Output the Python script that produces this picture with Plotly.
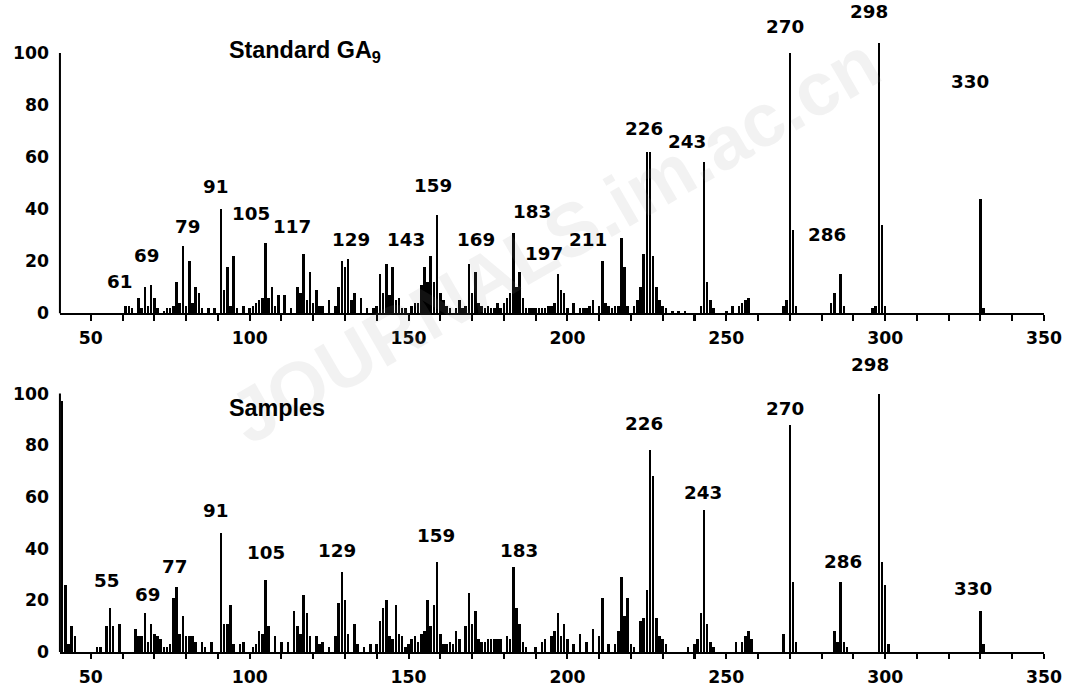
import plotly.graph_objects as go

# ---------------- data ----------------
top_mz = [61, 62, 63, 65, 66, 67, 68, 69, 70, 71, 73, 74, 75, 76, 77, 78, 79, 80, 81, 82, 83, 84, 85, 87, 89,
          91, 92, 93, 94, 95, 96, 98, 100, 101, 102, 103, 104, 105, 106, 107, 108, 109, 111, 113, 115, 116, 117,
          118, 119, 120, 121, 122, 123, 125, 127, 128, 129, 130, 131, 132, 133, 135, 137, 139, 140, 141, 142,
          143, 144, 145, 146, 147, 148, 149, 151, 152, 153, 154, 155, 156, 157, 158, 159, 160, 161, 162, 163,
          165, 166, 167, 168, 169, 170, 171, 172, 173, 174, 175, 176, 177, 178, 179, 180, 181, 182, 183, 184,
          185, 186, 187, 188, 189, 190, 191, 192, 193, 194, 195, 196, 197, 198, 199, 200, 202, 204, 205, 206,
          207, 208, 210, 211, 212, 213, 214, 215, 216, 217, 218, 219, 221, 222, 223, 224, 225, 226, 227, 228,
          229, 230, 231, 233, 235, 237, 242, 243, 244, 245, 246, 250, 252, 254, 255, 256, 257, 268, 269, 270,
          271, 272, 283, 284, 286, 287, 296, 297, 298, 299, 300, 330, 331]
top_int = [3, 3, 2, 6, 2, 10, 3, 11, 6, 2, 1, 2, 2, 3, 12, 4, 26, 3, 20, 4, 10, 8, 2, 2, 2,
           40, 9, 18, 3, 22, 2, 3, 2, 3, 4, 5, 6, 27, 6, 10, 3, 7, 7, 2, 10, 8, 23,
           5, 16, 4, 9, 3, 3, 5, 3, 10, 20, 18, 21, 5, 8, 6, 2, 2, 3, 15, 8,
           19, 7, 18, 5, 6, 2, 2, 3, 4, 4, 11, 18, 12, 22, 12, 38, 8, 5, 3, 2,
           2, 5, 2, 3, 19, 8, 16, 4, 3, 2, 3, 2, 2, 4, 2, 4, 6, 8, 31, 10,
           16, 6, 2, 2, 2, 2, 2, 2, 2, 3, 3, 4, 15, 9, 8, 2, 4, 2, 2, 2,
           3, 5, 3, 20, 4, 3, 2, 3, 3, 29, 18, 3, 3, 5, 10, 23, 62, 62, 22, 10,
           5, 3, 2, 1, 1, 1, 3, 58, 12, 5, 2, 1, 3, 3, 4, 5, 6, 3, 5, 100,
           32, 3, 4, 8, 15, 3, 2, 3, 104, 34, 3, 44, 2]

bot_mz = [41, 42, 43, 44, 45, 52, 53, 55, 56, 57, 59, 64, 65, 66, 67, 68, 69, 70, 71, 72, 73, 74, 75, 76, 77,
          78, 79, 80, 81, 82, 83, 85, 86, 88, 91, 92, 93, 94, 95, 97, 98, 101, 102, 103, 104, 105, 106, 108,
          110, 112, 114, 115, 116, 117, 118, 119, 121, 122, 123, 125, 127, 128, 129, 130, 131, 133, 134, 136,
          138, 140, 141, 142, 143, 144, 145, 146, 147, 148, 149, 150, 151, 152, 153, 154, 155, 156, 157, 158,
          159, 160, 161, 162, 163, 164, 165, 166, 168, 169, 170, 171, 172, 173, 174, 175, 176, 177, 178, 179,
          181, 182, 183, 184, 185, 186, 187, 190, 192, 193, 195, 196, 197, 198, 199, 200, 202, 204, 206, 208,
          210, 211, 213, 215, 216, 217, 218, 219, 220, 221, 223, 224, 225, 226, 227, 228, 229, 230, 231, 238,
          240, 241, 242, 243, 244, 245, 246, 253, 255, 256, 257, 258, 268, 270, 271, 272, 284, 285, 286, 287,
          288, 298, 299, 300, 301, 330, 331]
bot_int = [97, 26, 3, 10, 6, 2, 2, 10, 17, 10, 11, 9, 6, 6, 15, 4, 11, 7, 6, 5, 2, 2, 3, 21, 25,
           7, 14, 6, 6, 6, 4, 4, 2, 4, 46, 11, 11, 18, 3, 3, 4, 2, 3, 8, 7, 28, 10, 6,
           4, 4, 16, 10, 7, 22, 15, 6, 6, 3, 4, 2, 6, 19, 31, 20, 7, 11, 3, 2,
           3, 3, 12, 17, 20, 6, 5, 18, 7, 6, 2, 3, 5, 6, 4, 7, 8, 20, 10, 18,
           35, 7, 3, 3, 4, 3, 8, 5, 10, 23, 11, 16, 5, 4, 4, 5, 5, 5, 5, 5,
           6, 5, 33, 17, 11, 4, 2, 2, 4, 5, 6, 8, 15, 6, 11, 5, 3, 7, 4, 9,
           6, 21, 3, 3, 8, 29, 14, 21, 3, 2, 12, 13, 24, 78, 68, 13, 6, 5, 3, 2,
           3, 5, 15, 55, 11, 4, 2, 4, 4, 6, 8, 5, 7, 88, 27, 4, 8, 4, 27, 4,
           2, 100, 35, 26, 3, 16, 3]

top_labels = ["61", "69", "79", "91", "105", "117", "129", "143", "159", "169", "183", "197", "211",
              "226", "243", "270", "286", "298", "330"]
bot_labels = ["55", "69", "77", "91", "105", "129", "159", "183", "226", "243", "270", "286", "298", "330"]

x_tick_vals = [50, 100, 150, 200, 250, 300, 350]
x_tick_text = ["50", "100", "150", "200", "250", "300", "350"]
y_tick_vals = [0, 20, 40, 60, 80, 100]
y_tick_text = ["0", "20", "40", "60", "80", "100"]

panel_titles = ["Standard GA<sub>9</sub>", "Samples"]
watermark = "JOURNALS.im.ac.cn"

# ---------------- layout helpers (label placement, data units) ----------------
top_label_pos = [(58.9, 9.2), (67.4, 19.2), (80.6, 30), (89.4, 45.4), (100.4, 35), (113.4, 30),
                 (131.9, 25), (149.2, 25), (157.8, 46), (171.3, 25), (188.9, 35.8), (192.7, 19.6),
                 (206.6, 25), (224.2, 67.7), (237.7, 62.7), (268.6, 107), (281.8, 27), (295.0, 112.7),
                 (326.8, 85.8)]
bot_label_pos = [(54.8, 24.4), (67.7, 19), (76.5, 29.8), (89.4, 51.4), (105.2, 35.3), (127.5, 36),
                 (158.5, 41.9), (184.8, 36), (224.2, 85.3), (242.8, 58.5), (268.6, 91), (286.8, 31.8),
                 (295.3, 108), (327.8, 21.3)]

# the page is photographed slightly reduced; compensate with a uniform factor
K = 1 / 0.984
H0, W0 = 691, 1073
W, H = round(W0 * K), round(H0 * K)
X_DOM = [60 / W0, 1045 / W0]
Y_MAX = 120
TOP_DOM = [1 - 313 / H0, 1 - (313 - Y_MAX * 2.6) / H0]
BOT_DOM = [1 - 651 / H0, 1 - (651 - Y_MAX * 2.58) / H0]
X_RANGE = [40.3, 350]

def px(v):
    return v * K

LABEL_FONT = dict(family="DejaVu Sans", size=px(18), color="black", weight="bold")
TICK_FONT = dict(family="DejaVu Sans", size=px(17), color="black", weight="bold")
TITLE_FONT = dict(family="Liberation Sans", size=px(23), color="black", weight="bold")

fig = go.Figure()
fig.add_trace(go.Bar(x=top_mz, y=top_int, xaxis="x", yaxis="y", width=0.8,
                     marker=dict(color="black", line=dict(width=0)), hoverinfo="skip"))
fig.add_trace(go.Bar(x=bot_mz, y=bot_int, xaxis="x2", yaxis="y2", width=0.8,
                     marker=dict(color="black", line=dict(width=0)), hoverinfo="skip"))

def xaxis_cfg(anchor):
    return dict(domain=X_DOM, range=X_RANGE, anchor=anchor, showgrid=False, zeroline=False,
                showline=True, linecolor="black", linewidth=px(2), ticks="outside", ticklen=px(5),
                tickwidth=px(2), tickcolor="black", tickvals=x_tick_vals, ticktext=x_tick_text,
                tickfont=TICK_FONT, ticklabelstandoff=round(px(3)),
                minor=dict(dtick=10, tick0=0, ticks="outside", ticklen=px(5), tickwidth=px(2),
                           tickcolor="black"))

def yaxis_cfg(anchor, dom):
    return dict(domain=dom, range=[0, Y_MAX], anchor=anchor, showgrid=False, zeroline=False,
                showline=False, ticks="", tickvals=y_tick_vals,
                ticktext=y_tick_text, tickfont=TICK_FONT, ticklabelstandoff=round(px(10)))

annotations = [dict(text=watermark, xref="paper", yref="paper", x=555 / W0, y=1 - 240 / H0,
                    showarrow=False, textangle=-30,
                    font=dict(family="Liberation Sans", size=px(74), color="rgba(150,150,150,0.12)",
                              weight="bold"))]

for txt, (lx, ly) in zip(top_labels, top_label_pos):
    annotations.append(dict(text=txt, x=lx, y=ly, xref="x", yref="y", showarrow=False,
                            xanchor="center", yanchor="bottom", yshift=px(-4), font=LABEL_FONT))
for txt, (lx, ly) in zip(bot_labels, bot_label_pos):
    annotations.append(dict(text=txt, x=lx, y=ly, xref="x2", yref="y2", showarrow=False,
                            xanchor="center", yanchor="bottom", yshift=px(-4), font=LABEL_FONT))

annotations.append(dict(text=panel_titles[0], xref="paper", yref="paper", x=227 / W0, y=1 - 51 / H0,
                        xanchor="left", yanchor="middle", showarrow=False, font=TITLE_FONT))
annotations.append(dict(text=panel_titles[1], xref="paper", yref="paper", x=227 / W0, y=1 - 407 / H0,
                        xanchor="left", yanchor="middle", showarrow=False, font=TITLE_FONT))

# left axis lines only span 0..100
shapes = [
    dict(type="line", xref="x domain", yref="y", x0=0, x1=0, y0=0, y1=100,
         line=dict(color="black", width=px(2))),
    dict(type="line", xref="x2 domain", yref="y2", x0=0, x1=0, y0=0, y1=100,
         line=dict(color="black", width=px(2))),
]

fig.update_layout(
    width=W, height=H, margin=dict(l=0, r=0, t=0, b=0),
    paper_bgcolor="white", plot_bgcolor="white", showlegend=False, bargap=0,
    xaxis=xaxis_cfg("y"), yaxis=yaxis_cfg("x", TOP_DOM),
    xaxis2=xaxis_cfg("y2"), yaxis2=yaxis_cfg("x2", BOT_DOM),
    annotations=annotations, shapes=shapes,
)

post = ("document.body.style.margin='0';document.body.style.overflow='hidden';"
        "var d=document.getElementById('{plot_id}');d.style.position='fixed';"
        "d.style.top='0';d.style.left='0';")

fig.write_html("out.html", post_script=post, config={"displayModeBar": False, "staticPlot": True})
